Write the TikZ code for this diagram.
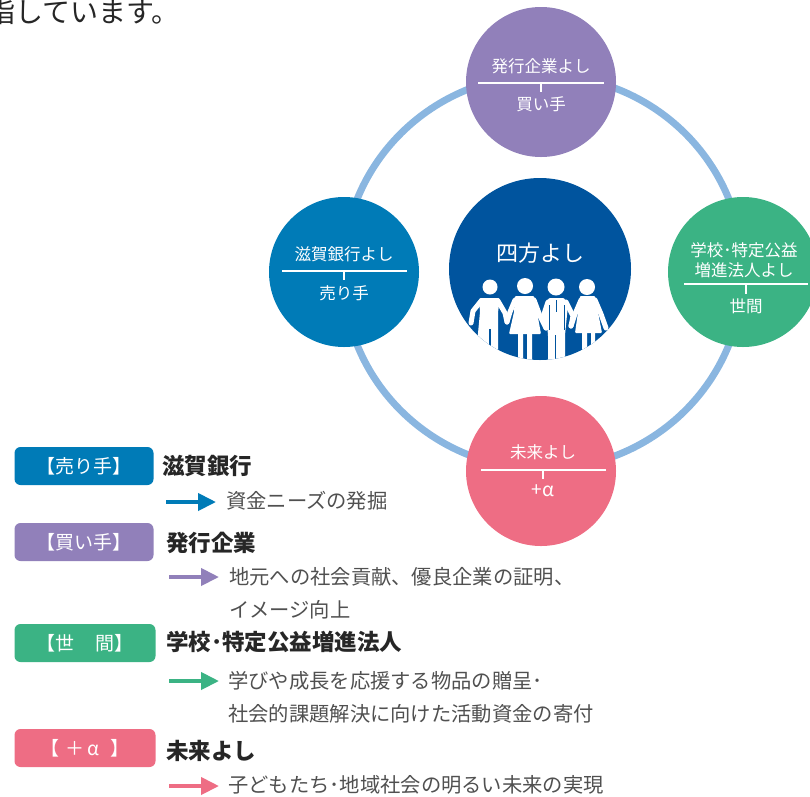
\documentclass[tikz,border=0pt]{standalone}
\usepackage{fontspec}
\setmainfont{Noto Sans CJK JP}
\usetikzlibrary{arrows.meta}
\definecolor{ringc}{HTML}{8AB6E0}
\definecolor{sellc}{HTML}{007BB7}
\definecolor{buyc}{HTML}{9180BA}
\definecolor{worldc}{HTML}{3BB384}
\definecolor{plusc}{HTML}{EE6D84}
\definecolor{midc}{HTML}{00549E}
\definecolor{txtc}{HTML}{505050}
\tikzset{
  x=1pt,y=-1pt,
  bigcirc/.style={circle,minimum size=150pt,inner sep=0pt},
  circtext/.style={text=white,font=\fontsize{16.5}{20.5}\selectfont,align=center,inner sep=0pt},
  rule/.style={draw=white,line width=1.3pt},
  tagbox/.style={rounded corners=6pt,minimum width=139pt,minimum height=38pt,inner sep=0pt,text=white,font=\fontsize{19}{22}\selectfont},
  headtext/.style={anchor=west,inner sep=0pt,font=\fontsize{22.5}{26}\selectfont\bfseries,text=black!85},
  bodytext/.style={anchor=west,inner sep=0pt,font=\fontsize{20.3}{24}\selectfont,text=txtc},
  legarrow/.style={line width=4pt,-{Triangle[length=18pt,width=17pt]}},
  limb/.style={draw=white,line width=5pt,line cap=round,line join=round},
}
\begin{document}
\begin{tikzpicture}
\useasboundingbox (0,0) rectangle (810,796);
\clip (0,0) rectangle (810,796);
\node[anchor=base west,inner sep=0pt,font=\fontsize{28}{28}\selectfont,text=black!85] (intro) at (-13,22) {指しています。};
% ring
\coordinate (ringc) at (543,272);
\draw[ringc,line width=7pt] (ringc) ellipse[x radius=200,y radius=197];
% circles
\node[bigcirc,fill=buyc] (top) at (541,82) {};
\node[bigcirc,fill=sellc] (left) at (344,272) {};
\node[bigcirc,fill=worldc] (right) at (743,272) {};
\node[bigcirc,fill=plusc] (bottom) at (541,471) {};
\node[circle,minimum size=182pt,inner sep=0pt,fill=midc] (mid) at (540,269) {};
% circle labels
\node[circtext] (t1) at (541,66) {発行企業よし};
\node[circtext] (t2) at (541,104) {買い手};
\draw[rule] (478,83) -- (604,83) (541,83) -- (541,92);
\node[circtext] (l1) at (344,254) {滋賀銀行よし};
\node[circtext] (l2) at (344,293) {売り手};
\draw[rule] (282,271) -- (407,271) (344,271) -- (344,280);
\node[circtext] (r1) at (744,260) {学校･特定公益\\増進法人よし};
\node[circtext] (r2) at (746,306) {世間};
\draw[rule] (684,284) -- (808,284) (746,284) -- (746,294);
\node[circtext] (b1) at (543,452) {未来よし};
\node[circtext,font=\fontsize{19}{22}\selectfont] (b2) at (543,491) {+α};
\draw[rule] (481,470) -- (606,470) (543,470) -- (543,479);
\node[text=white,font=\fontsize{22}{26}\selectfont,inner sep=0pt] (mt) at (540,253) {四方よし};
% people
\begin{scope}
\clip (mid.center) circle[radius=91];
\fill[white] (490,287) circle[radius=7.5] (525,286) circle[radius=8] (556,287) circle[radius=8.5] (587,287) circle[radius=8];
% man 1
\fill[white,rounded corners=2pt] (479,298) -- (500,298) -- (498,312) -- (498,365) -- (475,365) -- (480,312) -- cycle;
\draw[limb] (481,301) -- (473,311) -- (471,323);
\draw[limb] (498,301) -- (505,313) -- (507,322);
\draw[midc,line width=1.6pt] (490,329) -- (490,365);
% woman 2
\fill[white,rounded corners=1pt] (515,296) -- (534,296) -- (537,312) -- (541,334) -- (509,334) -- (514,312) -- cycle;
\draw[limb] (515,300) -- (510,312) -- (507,322);
\draw[limb] (534,300) -- (540,316) -- (546,328);
\fill[white] (518,334) rectangle (523,365) (527,334) rectangle (532,365);
% man 3
\fill[white,rounded corners=1pt] (549,298) -- (564,298) -- (568,305) -- (565,335) -- (565,365) -- (548,365) -- (548,335) -- (545,305) -- cycle;
\draw[limb] (548,302) -- (544,314) -- (546,328);
\draw[limb] (566,302) -- (573,316) -- (571,326);
\draw[midc,line width=1pt] (556,300) -- (556,312);
\draw[midc,line width=1.6pt] (555.5,335) -- (555.5,365);
\draw[midc,line width=1pt] (549,305) -- (549,330) (564,305) -- (564,330);
% woman 4
\fill[white,rounded corners=1pt] (580,296) -- (595,296) -- (598,312) -- (602,333) -- (575,333) -- (578,312) -- cycle;
\draw[limb] (581,300) -- (575,314) -- (571,326);
\draw[limb] (595,300) -- (601,314) -- (606,328);
\fill[white] (582,333) rectangle (587,365) (591,333) rectangle (595,365);
\end{scope}
% legend
\node[tagbox,fill=sellc] (tag1) at (84,466) {【売り手】};
\node[headtext] (h1) at (162,466) {滋賀銀行};
\coordinate (a1s) at (166,502); \coordinate (a1e) at (216,502);
\draw[legarrow,sellc] (a1s) -- (a1e);
\node[bodytext] (d1) at (226,501) {資金ニーズの発掘};
\node[tagbox,fill=buyc] (tag2) at (84,542) {【買い手】};
\node[headtext] (h2) at (166,543) {発行企業};
\coordinate (a2s) at (169,577); \coordinate (a2e) at (219,577);
\draw[legarrow,buyc] (a2s) -- (a2e);
\node[bodytext] (d2) at (229,577) {地元への社会貢献、優良企業の証明、};
\node[bodytext] (d2b) at (229,610) {イメージ向上};
\node[tagbox,fill=worldc,minimum width=141pt] (tag3) at (85,643) {【世\hspace{1.15em}間】};
\node[headtext] (h3) at (166,642) {学校･特定公益増進法人};
\coordinate (a3s) at (169,681); \coordinate (a3e) at (219,681);
\draw[legarrow,worldc] (a3s) -- (a3e);
\node[bodytext] (d3) at (228,681) {学びや成長を応援する物品の贈呈･};
\node[bodytext] (d3b) at (228,714) {社会的課題解決に向けた活動資金の寄付};
\node[tagbox,fill=plusc,minimum width=141pt] (tag4) at (85,748) {【\hspace{.35em}＋\hspace{.15em}α\hspace{.6em}】};
\node[headtext] (h4) at (166,751) {未来よし};
\coordinate (a4s) at (169,786); \coordinate (a4e) at (219,786);
\draw[legarrow,plusc] (a4s) -- (a4e);
\node[bodytext] (d4) at (228,785) {子どもたち･地域社会の明るい未来の実現};
\end{tikzpicture}
\end{document}
